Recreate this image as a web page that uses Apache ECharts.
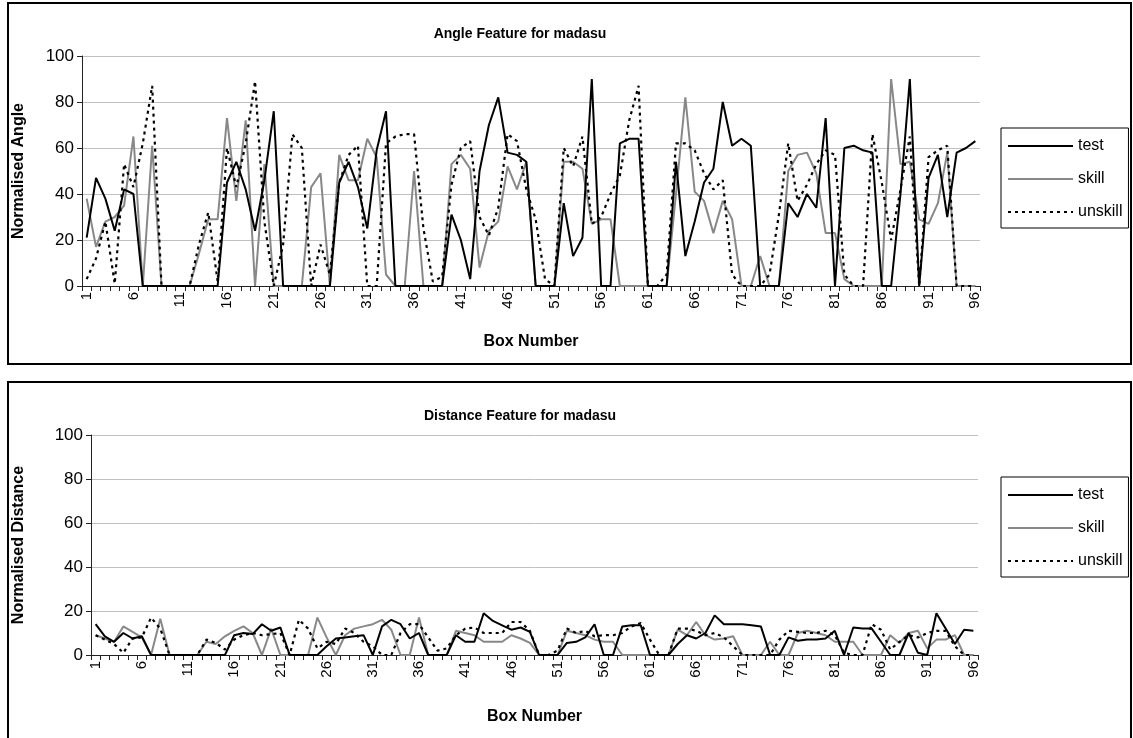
<!DOCTYPE html>
<html>
<head>
<meta charset="utf-8">
<script src="https://cdn.jsdelivr.net/npm/echarts@6/dist/echarts.min.js"></script>
<style>
  html, body { margin: 0; padding: 0; background: #fff; }
  #main { width: 1133px; height: 738px; }
</style>
</head>
<body>
<div id="main"></div>
<script>
// box numbers 1..96
const boxes = [];
for (let i = 1; i <= 96; i++) boxes.push(String(i));

// Angle feature (top chart)
const angleTest = [21,47,38,24,42,40,0,0,0,0,0,0,0,0,0,45,54,42,24,46,76,0,0,0,0,0,0,45,54,43,25,59,76,0,0,0,0,0,0,31,20,3,50,70,82,58,57,54,0,0,0,36,13,21,90,0,0,62,64,64,0,0,0,54,13,28,45,51,80,61,64,61,0,0,0,36,30,40,34,73,0,60,61,59,58,0,0,40,90,0,47,57,30,58,60,63];
const angleSkill = [38,17,28,30,35,65,0,61,0,0,0,0,14,29,29,73,37,72,0,53,0,0,0,0,43,49,0,57,46,46,64,56,5,0,0,50,0,0,0,53,57,51,8,24,28,52,42,54,0,0,0,54,54,51,27,29,29,0,0,0,0,0,0,40,82,41,37,23,37,29,0,0,13,0,0,50,57,58,49,23,23,3,0,0,0,0,90,53,54,29,27,36,58,0,0,0];
const angleUnskill = [3,12,28,1,53,43,62,87,0,0,0,0,18,32,2,60,43,62,89,28,0,18,66,60,0,18,5,45,57,61,0,0,62,65,66,66,25,2,4,44,60,63,30,22,34,66,63,42,29,3,0,60,52,65,27,30,40,48,72,87,0,0,5,62,62,59,49,42,46,5,0,0,0,5,31,62,37,44,53,59,57,5,0,0,66,45,20,42,65,0,56,59,61,0,0,0];

// Distance feature (bottom chart)
const distTest = [14,8.5,6,10,7.5,8.5,0,0,0,0,0,0,0,0,0,9,10,9.5,14,11,12.5,0,0,0,0,4,7.5,8,8.5,9,0,13,16,14,7.5,10,0,0,0,9,6,6,19,15.5,13.5,11.5,12.5,10.5,0,0,0,5.5,6,8,14,0,0,13,13.5,13.5,0,0,0,5,9,7.5,10,18,14,14,14,13.5,13,0,0,8,6.5,7,7,7.5,11,0,12.5,12,12,6,0,0,10,1,0,19,12,5,11.5,11];
const distSkill = [9,7.5,6,13,10.5,8,0,16.5,0,0,0,0,6,5,8.5,11,13,10,0,12,0,0,0,0,17,8,0,9,12,13,14,16,11.5,0,0,17,0,0,0,11,10,9,6,6,6,9,7.5,5.5,0,0,0,11,10,9,7,6,6,0,0,0,0,0,0,11.5,9,15,9,7,7.5,8.5,0,0,0,6,0,0,10,11,10,9,6,6,6,0,0,0,9,5.5,10,11,3,7,7,9,0,0];
const distUnskill = [9,7,5,1,7.5,8,17,12,0,0,0,0,7,5.5,2.5,7,9,10,9,9.5,10,0,16,12,3,6,5,12,10,6,4,0,0,10,14,14,8,2,3,9,12,12.5,10,10,10,15,15,11,0,0,2,12,10,11,8.5,9,9,10,13,14.5,7,0,0,12,12,11,9,10,8,4,0,0,0,0,7,11,10.5,10,10,11,9,1,0,0,14,11.5,2.5,6,9,8,10,11,11,4,0,0];

const yTicks = [0, 20, 40, 60, 80, 100];

const FONT = 'Liberation Sans, Arial, sans-serif';
const AXIS = '#222';

let myChart = echarts.init(document.getElementById('main'), null, { renderer: 'canvas' });

function xAxisOf(gridIndex, gap) {
    return {
        type: 'category',
        gridIndex: gridIndex,
        data: boxes,
        boundaryGap: true,
        name: 'Box Number',
        nameLocation: 'middle',
        nameGap: gap,
        nameTextStyle: { fontFamily: FONT, fontSize: 16, fontWeight: 'bold', color: '#000' },
        axisLine: { lineStyle: { color: AXIS, width: 1 } },
        axisTick: { show: true, interval: 0, length: 5, lineStyle: { color: AXIS } },
        axisLabel: { interval: 4, rotate: 90, margin: 6, fontFamily: FONT, fontSize: 15, color: '#000' },
        splitLine: { show: false }
    };
}

function yAxisOf(gridIndex, name, gap) {
    return {
        type: 'value',
        gridIndex: gridIndex,
        min: yTicks[0],
        max: yTicks[yTicks.length - 1],
        interval: 20,
        name: name,
        nameLocation: 'middle',
        nameGap: gap,
        nameRotate: 90,
        nameTextStyle: { fontFamily: FONT, fontSize: 16, fontWeight: 'bold', color: '#000' },
        axisLine: { show: true, lineStyle: { color: AXIS, width: 1 } },
        axisTick: { show: true, length: 5, lineStyle: { color: AXIS } },
        axisLabel: { margin: 8, fontFamily: FONT, fontSize: 17, color: '#000' },
        splitLine: { show: true, lineStyle: { color: '#c0c0c0', width: 1 } }
    };
}

function seriesOf(idx, test, skill, unskill) {
    return [
        { name: 'test', type: 'line', xAxisIndex: idx, yAxisIndex: idx, data: test, symbol: 'none',
          lineStyle: { color: '#000', width: 2 }, itemStyle: { color: '#000' }, z: 3 },
        { name: 'skill', type: 'line', xAxisIndex: idx, yAxisIndex: idx, data: skill, symbol: 'none',
          lineStyle: { color: '#888', width: 2 }, itemStyle: { color: '#888' }, z: 2 },
        { name: 'unskill', type: 'line', xAxisIndex: idx, yAxisIndex: idx, data: unskill, symbol: 'none',
          lineStyle: { color: '#000', width: 2.2, type: [3, 4], cap: 'butt' }, itemStyle: { color: '#000' }, z: 4 }
    ];
}

function legendOf(top) {
    return {
        orient: 'vertical',
        left: 1001,
        top: top,
        itemWidth: 65,
        itemHeight: 14,
        itemGap: 17,
        padding: [10, 6, 8, 6],
        borderColor: '#000',
        borderWidth: 1,
        itemStyle: { opacity: 0 },
        textStyle: { fontFamily: FONT, fontSize: 16, color: '#000' },
        data: ['test', 'skill', 'unskill']
    };
}

myChart.setOption({
    animation: false,
    backgroundColor: '#fff',
    title: [
        { text: 'Angle Feature for madasu', left: 515, top: 22, textAlign: 'center',
          textStyle: { fontFamily: FONT, fontSize: 14, fontWeight: 'bold', color: '#000' } },
        { text: 'Distance Feature for madasu', left: 515, top: 404, textAlign: 'center',
          textStyle: { fontFamily: FONT, fontSize: 14, fontWeight: 'bold', color: '#000' } }
    ],
    legend: [legendOf(128), legendOf(477)],
    grid: [
        { left: 82, top: 56, width: 898, height: 230 },
        { left: 91, top: 435, width: 887, height: 220 }
    ],
    xAxis: [xAxisOf(0, 48), xAxisOf(1, 54)],
    yAxis: [yAxisOf(0, 'Normalised Angle', 55), yAxisOf(1, 'Normalised Distance', 64)],
    series: seriesOf(0, angleTest, angleSkill, angleUnskill)
        .concat(seriesOf(1, distTest, distSkill, distUnskill)),
    graphic: [
        { type: 'rect', shape: { x: 8, y: 3, width: 1123, height: 361 },
          style: { fill: 'none', stroke: '#000', lineWidth: 2 }, z: 10 },
        { type: 'rect', shape: { x: 8, y: 382, width: 1123, height: 420 },
          style: { fill: 'none', stroke: '#000', lineWidth: 2 }, z: 10 }
    ]
});
</script>
</body>
</html>
